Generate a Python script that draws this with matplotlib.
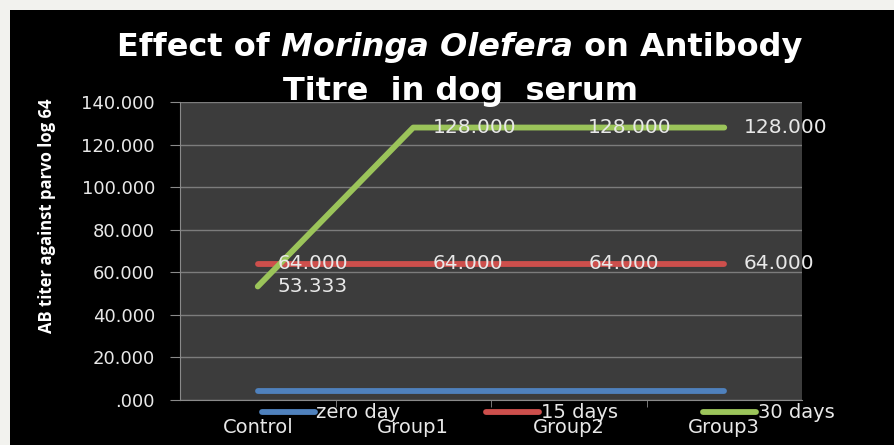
import matplotlib.pyplot as plt
from matplotlib.patches import Rectangle
import numpy as np

# chart data
groups = ['Control', 'Group1', 'Group2', 'Group3']
series_names = ['zero day', '15 days', '30 days']
zero_day = [4, 4, 4, 4]
days_15 = [64.0, 64.0, 64.0, 64.0]
days_30 = [53.333, 128.0, 128.0, 128.0]
y_ticks = [0, 20, 40, 60, 80, 100, 120, 140]
y_tick_labels = ['.000', '20.000', '40.000', '60.000', '80.000', '100.000', '120.000', '140.000']

colors = ['#4f81bd', '#cd4f4c', '#9bc45a']
txt = '#e8e8e8'
W, H = 895, 445

fig = plt.figure(figsize=(W / 100, H / 100), dpi=100)
fig.set_facecolor('#f2f2ee')
fig.patches.append(Rectangle((10 / W, 0), 1, 1 - 10 / H, transform=fig.transFigure,
                             facecolor='black', edgecolor='none', zorder=-5))

ax = fig.add_axes([180 / W, 45 / H, 622 / W, 298 / H])
ax.set_facecolor('#3c3c3c')

x = np.arange(len(groups))
series = [zero_day, days_15, days_30]
for vals, name, col in zip(series, series_names, colors):
    ax.plot(x, vals, color=col, lw=4.2, solid_capstyle='round', label=name, zorder=3)

# data labels for 15 and 30 days, right of each point
for vals in (days_15, days_30):
    for xi, v in zip(x, vals):
        ax.annotate(f'{v:.3f}', (xi, v), xytext=(14, 0), textcoords='offset points',
                    ha='left', va='center', color=txt, fontsize=14.5, zorder=5,
                    annotation_clip=False)

ax.set_xlim(-0.5, len(groups) - 0.5)
ax.set_ylim(0, 140)
ax.set_yticks(y_ticks)
ax.set_yticklabels(y_tick_labels)
ax.set_xticks(x)
ax.set_xticklabels(groups)
ax.set_xticks(np.arange(len(groups) - 1) + 0.5, minor=True)
ax.tick_params(axis='x', which='major', length=0, pad=13, labelsize=14, colors=txt)
ax.tick_params(axis='x', which='minor', length=5, color='#8a8a8a')
ax.tick_params(axis='y', length=7, color='#8a8a8a', labelsize=13, labelcolor=txt, pad=11)
ax.grid(axis='y', color='#7c7c7c', lw=1)
ax.set_axisbelow(True)
for s in ('top', 'right'):
    ax.spines[s].set_visible(False)
for s in ('left', 'bottom'):
    ax.spines[s].set_color('#8a8a8a')

leg = fig.legend(loc='center left', bbox_to_anchor=(262 / W, 1 - 413 / H), ncol=3,
                 frameon=False, fontsize=14, handlelength=2.7, handletextpad=0.1,
                 columnspacing=4.4, borderpad=0, borderaxespad=0)
for t in leg.get_texts():
    t.set_color(txt)

fig.text(47 / W, 1 - 216 / H, 'AB titer against parvo log 64', rotation=90,
         ha='center', va='center', color='white', fontsize=12, fontweight='bold',
         family='Open Sans')

# title with italic species name
tkw = dict(color='white', fontsize=23, fontweight='bold', va='baseline')
parts = [('Effect of ', 'normal'), ('Moringa Olefera', 'italic'), (' on Antibody', 'normal')]
r = fig.canvas.get_renderer()
texts = []
for s, st in parts:
    texts.append(fig.text(0, 1 - 56 / H, s, family='DejaVu Sans', style=st, **tkw))
widths = [t.get_window_extent(r).width for t in texts]
xpos = 460 - sum(widths) / 2
for t, w in zip(texts, widths):
    t.set_x(xpos / W)
    xpos += w
fig.text(461 / W, 1 - 100 / H, 'Titre  in dog  serum', ha='center', family='DejaVu Sans', **tkw)

fig.savefig('out.png', dpi=100, facecolor=fig.get_facecolor())
